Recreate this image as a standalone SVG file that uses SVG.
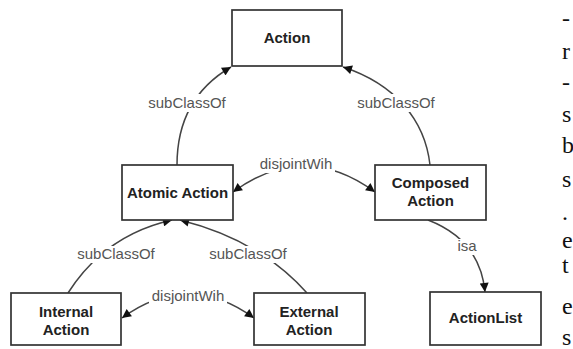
<svg xmlns="http://www.w3.org/2000/svg" width="573" height="349" viewBox="0 0 573 349">
<style>
.box{fill:#fff;stroke:#333;stroke-width:1.7}
.nt{font-family:"Liberation Sans",Arial,sans-serif;font-weight:bold;font-size:15px;fill:#222;text-anchor:middle}
.lb{font-family:"Liberation Sans",Arial,sans-serif;font-size:15px;fill:#555;text-anchor:middle}
.ln{fill:none;stroke:#444;stroke-width:1.5}
.bg{fill:#fff}
.frag{font-family:"Liberation Serif","Times New Roman",serif;font-size:24px;fill:#111}
</style>
<defs>
<marker id="ah" viewBox="0 0 10 10" refX="10" refY="5" markerWidth="10" markerHeight="9" markerUnits="userSpaceOnUse" orient="auto-start-reverse">
<path d="M0,0 L10,5 L0,10 z" fill="#111"/>
</marker>
</defs>
<rect width="573" height="349" fill="#fff"/>
<g id="connectors">
<path class="ln" d="M177,165 C177,120 195,88 231,67" marker-end="url(#ah)"/>
<path class="ln" d="M430,165 C425,120 395,84 343,67" marker-end="url(#ah)"/>
<path class="ln" d="M233,192 Q304,140 375,192" marker-start="url(#ah)" marker-end="url(#ah)"/>
<path class="ln" d="M68,293 Q105,235 172,220" marker-end="url(#ah)"/>
<path class="ln" d="M307,293 Q260,240 180,220" marker-end="url(#ah)"/>
<path class="ln" d="M122,318 Q188,270 254,318" marker-start="url(#ah)" marker-end="url(#ah)"/>
<path class="ln" d="M428,220 Q480,240 485,292" marker-end="url(#ah)"/>
<rect class="bg" x="145" y="94" width="84" height="18"/>
<text class="lb" x="187" y="108">subClassOf</text>
<rect class="bg" x="354" y="94" width="85" height="18"/>
<text class="lb" x="396" y="108">subClassOf</text>
<rect class="bg" x="257" y="156" width="78" height="17"/>
<text class="lb" x="296" y="169">disjointWih</text>
<rect class="bg" x="74" y="246" width="84" height="17"/>
<text class="lb" x="116" y="259">subClassOf</text>
<rect class="bg" x="206" y="246" width="84" height="17"/>
<text class="lb" x="248" y="259">subClassOf</text>
<rect class="bg" x="149" y="288" width="78" height="17"/>
<text class="lb" x="188" y="301">disjointWih</text>
<rect class="bg" x="456" y="239" width="22" height="16"/>
<text class="lb" x="467" y="251">isa</text>
</g>
<g id="action"><rect class="box" x="232" y="10" width="110" height="56"/><text class="nt" x="287" y="43">Action</text></g>
<g id="atomic-action"><rect class="box" x="122" y="165" width="111" height="55"/><text class="nt" x="177.5" y="198">Atomic Action</text></g>
<g id="composed-action"><rect class="box" x="375" y="165" width="111" height="55"/><text class="nt" x="430.5" y="188">Composed</text><text class="nt" x="430.5" y="206">Action</text></g>
<g id="internal-action"><rect class="box" x="11" y="293" width="110" height="52"/><text class="nt" x="66" y="317">Internal</text><text class="nt" x="66" y="335">Action</text></g>
<g id="external-action"><rect class="box" x="254" y="293" width="111" height="52"/><text class="nt" x="309" y="317">External</text><text class="nt" x="309" y="335">Action</text></g>
<g id="actionlist"><rect class="box" x="430" y="292" width="111" height="53"/><text class="nt" x="485.5" y="323">ActionList</text></g>
<g id="page-fragments">
<text class="frag" x="562" y="26">-</text>
<text class="frag" x="562" y="59">r</text>
<text class="frag" x="562" y="90">-</text>
<text class="frag" x="562" y="122">s</text>
<text class="frag" x="562" y="153">b</text>
<text class="frag" x="562" y="187">s</text>
<text class="frag" x="562" y="220">.</text>
<text class="frag" x="562" y="248">e</text>
<text class="frag" x="562" y="273">t</text>
<text class="frag" x="562" y="314">e</text>
<text class="frag" x="562" y="345">s</text>
</g>
</svg>
